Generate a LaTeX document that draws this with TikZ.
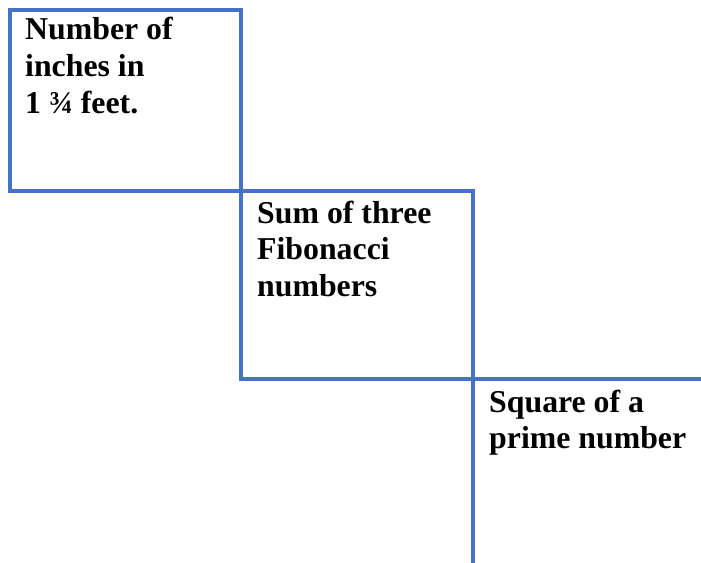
\documentclass[tikz,border=0pt]{standalone}
\usepackage{fontspec}
\setmainfont{Liberation Serif}
\definecolor{boxblue}{HTML}{4472C4}
\begin{document}
\begin{tikzpicture}[x=1bp,y=-1bp,
  edge/.style={draw=boxblue,line width=3.5bp},
  label/.style={anchor=base west,inner sep=0pt,align=left,
    font=\fontsize{31.8bp}{36.8bp}\selectfont\bfseries}]
\useasboundingbox (0,0) rectangle (701,563);
\draw[edge] (10,10) rectangle (241,191);
\draw[edge] (241,191) rectangle (473,379);
\coordinate (c) at (473,379);
\coordinate (r) at (701,379);
\coordinate (d) at (473,563);
\draw[edge] (r) -- (c) -- (d);
\node[label] (t1) at (25,113.6) {Number of\\inches in\\1 ¾ feet.};
\node[label] (t2) at (257,296.6) {Sum of three\\Fibonacci\\numbers};
\node[label] (t3) at (489,448.8) {Square of a\\prime number};
\end{tikzpicture}
\end{document}
